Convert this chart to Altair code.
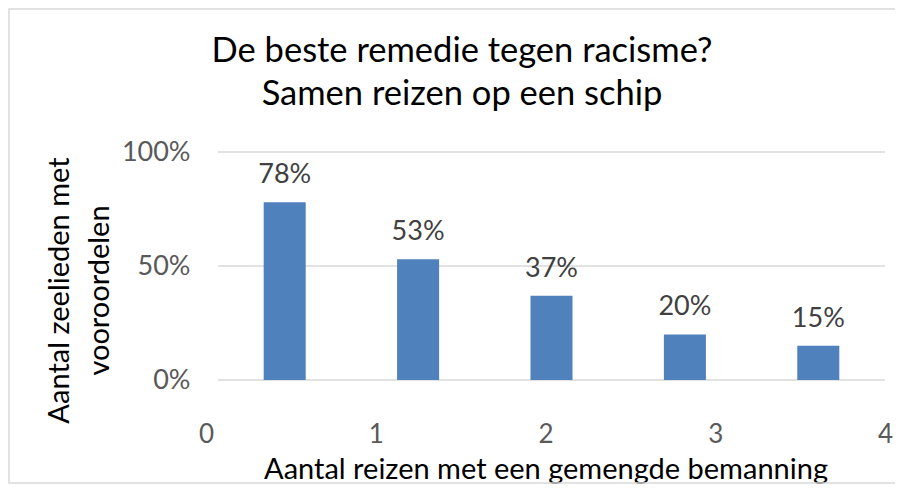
import altair as alt
import pandas as pd

# --- data ---
bar_keys = ["A", "B", "C", "D", "E"]
bar_values = [0.78, 0.53, 0.37, 0.20, 0.15]
x_ticks = [0, 1, 2, 3, 4]
y_ticks = [0.0, 0.5, 1.0]
title_lines = ["De beste remedie tegen racisme?", "Samen reizen op een schip"]
x_title = "Aantal reizen met een gemengde bemanning"
y_title = ["Aantal zeelieden met", "vooroordelen"]

FONT = "Lato"
W, H = 679, 228

bars_df = pd.DataFrame({"key": bar_keys, "value": bar_values})
ticks_df = pd.DataFrame({"trip": x_ticks})
grid_df = pd.DataFrame({"g": y_ticks})
title_df = pd.DataFrame({"t": [0]})

yscale = alt.Scale(domain=[0, 1])
band = alt.Scale(domain=bar_keys, range=[12, W], paddingInner=0.685, paddingOuter=0.3425)

yaxis = alt.Axis(values=y_ticks, format=".0%", grid=False, domain=False, ticks=False,
                 labelPadding=16, labelFont=FONT, labelFontSize=27, labelColor="#595959",
                 title=y_title, titleFont=FONT, titleFontSize=29, titleFontWeight="normal",
                 titleColor="#000000", titleAngle=-90, titleAlign="center",
                 titleBaseline="alphabetic", titleX=-138, titleY=138, titleLineHeight=40)

grid = alt.Chart(grid_df).mark_rule(color="#d9d9d9", strokeWidth=1.5).encode(
    y=alt.Y("g:Q", scale=yscale, axis=yaxis),
    x=alt.value(12), x2=alt.value(W),
)

bars = alt.Chart(bars_df).mark_bar(color="#4F81BD").encode(
    x=alt.X("key:N", scale=band, axis=None),
    y=alt.Y("value:Q", scale=yscale),
)

labels = alt.Chart(bars_df).mark_text(font=FONT, fontSize=27, color="#404040",
                                      baseline="alphabetic", dy=-19).encode(
    x=alt.X("key:N", scale=band, axis=None),
    y=alt.Y("value:Q", scale=yscale),
    text=alt.Text("value:Q", format=".0%"),
)

xaxis_layer = alt.Chart(ticks_df).mark_point(opacity=0).encode(
    x=alt.X("trip:Q", scale=alt.Scale(domain=[0, 4], nice=False),
            axis=alt.Axis(values=x_ticks, format="d", grid=False, domain=False, ticks=False,
                          labelFlush=False, labelOverlap=False,
                          labelPadding=41, labelFont=FONT, labelFontSize=26,
                          labelColor="#595959", labelBaseline="top",
                          title=x_title, titleFont=FONT, titleFontSize=29,
                          titleFontWeight="normal", titleColor="#000000",
                          titleBaseline="alphabetic", titleY=98)),
    y=alt.value(H),
)

title = alt.Chart(title_df).mark_text(
    font=FONT, fontSize=34.5, color="#000000", align="center",
    baseline="alphabetic", lineHeight=43,
).encode(
    x=alt.value(256), y=alt.value(-90), text=alt.value(title_lines),
)

border = alt.Chart(pd.DataFrame({"b": [0]})).mark_rect(
    fill=None, stroke="#d9d9d9", strokeWidth=1.5).encode(
    x=alt.value(-197), x2=alt.value(W + 40), y=alt.value(-143), y2=alt.value(H + 103),
)

chart = alt.layer(border, grid, bars, labels, xaxis_layer, title).resolve_scale(
    x="independent"
).properties(
    width=W, height=H,
    autosize=alt.AutoSizeParams(type="none"),
    padding={"left": 198, "top": 144, "right": 10, "bottom": 104},
).configure_view(stroke=None)

chart.save("out.html", embed_options={"renderer": "svg", "actions": False})
